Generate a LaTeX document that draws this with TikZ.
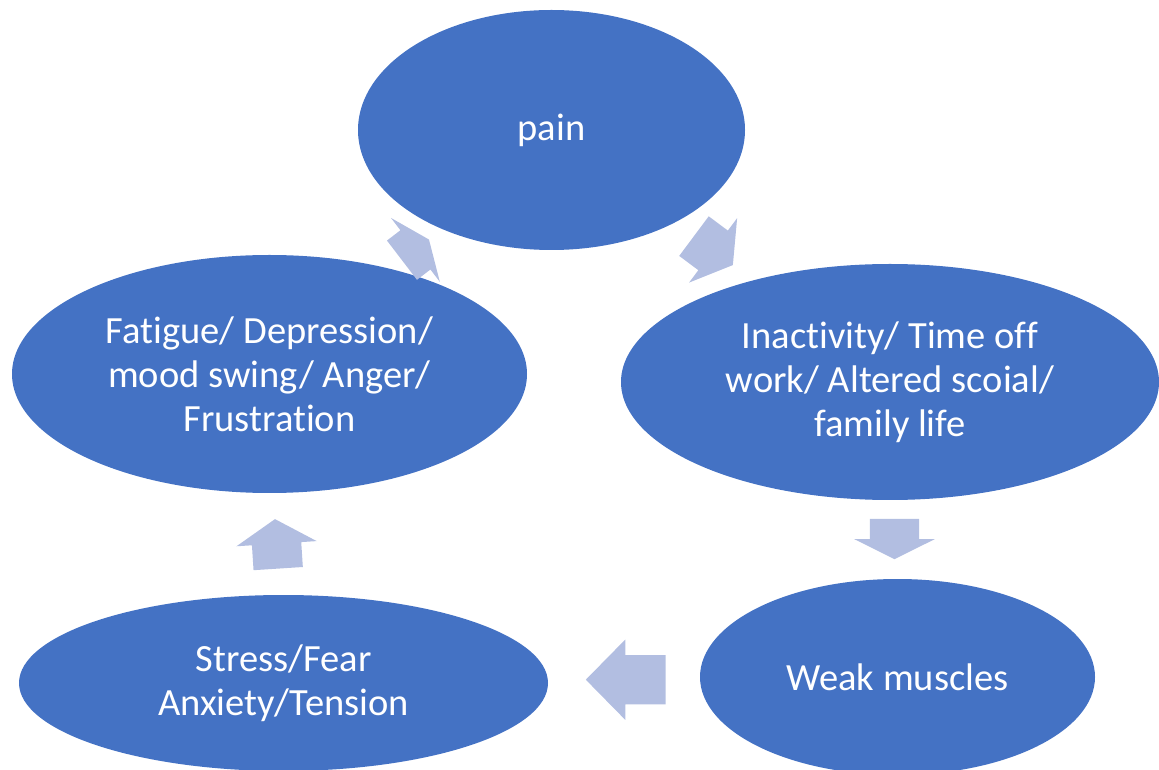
\documentclass[tikz,border=0pt]{standalone}
\usepackage{fontspec}
\setmainfont{Carlito}[Ligatures=NoCommon]
\usetikzlibrary{shapes.geometric,shapes.arrows}
\definecolor{cycleblue}{HTML}{4472C4}
\definecolor{cyclearrowfill}{RGB}{178,190,225}
\begin{document}
\begin{tikzpicture}[x=1pt,y=1pt,
  bubble/.style={ellipse,fill=cycleblue,text=white,align=center,inner sep=0pt,font=\fontsize{38.5}{44}\selectfont},
  turnarrow/.style={single arrow,fill=cyclearrowfill,draw=none,inner xsep=0pt,inner ysep=24.5pt,single arrow head extend=15.5pt,anchor=tail}]
\useasboundingbox (0,0) rectangle (1159,769);
\clip (0,0) rectangle (1159,769);
\node[bubble,minimum width=387pt,minimum height=240pt] (pain) at (551.5,639) {pain};
\node[bubble,minimum width=538pt,minimum height=236pt] (inactive) at (890,387) {Inactivity/ Time off\\work/ Altered scoial/\\family life};
\node[bubble,minimum width=395pt,minimum height=196pt] (weak) at (897.5,92) {Weak muscles};
\node[bubble,minimum width=529pt,minimum height=176pt] (stress) at (283.5,86) {Stress/Fear\\Anxiety/Tension};
\node[bubble,minimum width=515pt,minimum height=238pt] (fatigue) at (269.5,395) {Fatigue/ Depression/\\mood swing/ Anger/\\Frustration};
\node[turnarrow,rotate=37.4,minimum height=34pt,single arrow tip angle=134] (fatiguetopain) at (401.8,508.7) {};
\node[turnarrow,rotate=-36.7,minimum height=48.5pt,single arrow tip angle=117] (paintoinactive) at (693.8,533) {};
\node[turnarrow,rotate=-90,minimum height=40.3pt,single arrow tip angle=127] (inactivetoweak) at (894.5,250.3) {};
\node[turnarrow,rotate=180,minimum height=79.7pt,single arrow tip angle=91] (weaktostress) at (665.7,89.3) {};
\node[turnarrow,rotate=93.7,minimum height=49.6pt,single arrow tip angle=117] (stresstofatigue) at (278.2,200.2) {};
\end{tikzpicture}
\end{document}
